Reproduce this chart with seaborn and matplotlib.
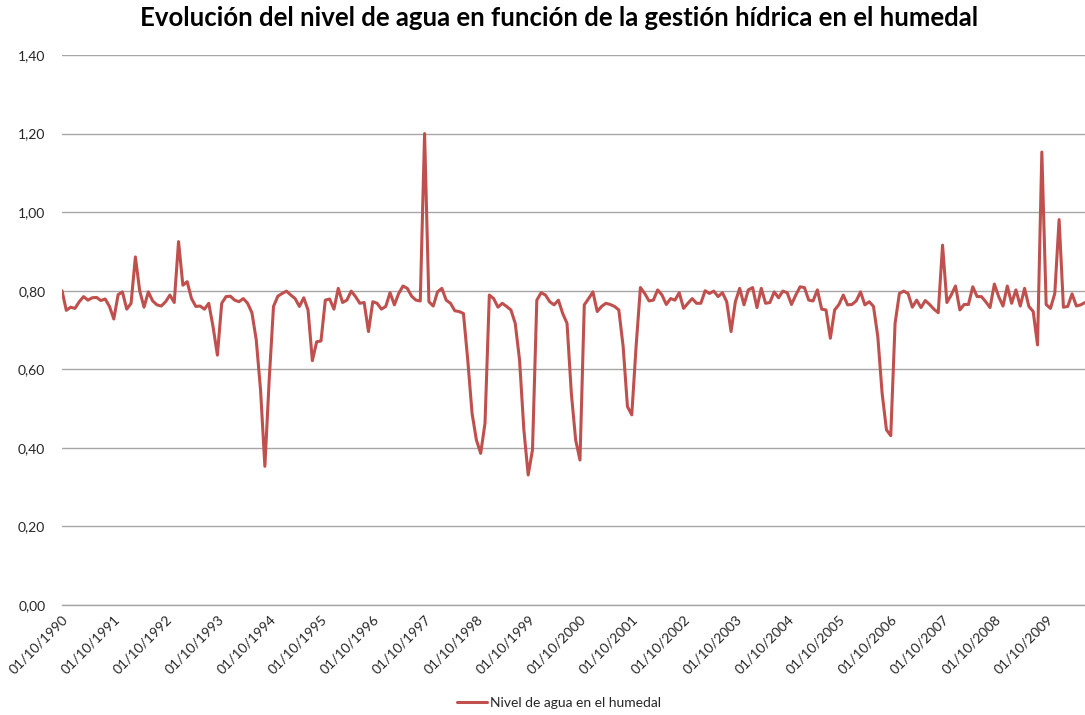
import pandas as pd
import matplotlib
matplotlib.use('Agg')
import matplotlib.pyplot as plt
import seaborn as sns

# Monthly water level, starting 01/10/1990
nivel = [
    0.800, 0.750, 0.758, 0.755, 0.772, 0.785, 0.776, 0.782, 0.783, 0.775, 0.779, 0.760,
    0.728, 0.790, 0.797, 0.753, 0.768, 0.886, 0.800, 0.758, 0.797, 0.774, 0.764, 0.761,
    0.772, 0.789, 0.770, 0.925, 0.814, 0.823, 0.780, 0.760, 0.761, 0.753, 0.768, 0.708,
    0.636, 0.768, 0.785, 0.786, 0.776, 0.772, 0.780, 0.768, 0.744, 0.675, 0.547, 0.353,
    0.573, 0.760, 0.786, 0.793, 0.799, 0.789, 0.780, 0.760, 0.782, 0.751, 0.622, 0.670,
    0.672, 0.776, 0.779, 0.753, 0.806, 0.770, 0.776, 0.799, 0.785, 0.768, 0.770, 0.696,
    0.772, 0.768, 0.753, 0.760, 0.795, 0.764, 0.793, 0.812, 0.806, 0.786, 0.776, 0.774,
    1.200, 0.772, 0.761, 0.797, 0.806, 0.776, 0.768, 0.749, 0.747, 0.742, 0.624, 0.488,
    0.420, 0.386, 0.463, 0.789, 0.780, 0.758, 0.768, 0.760, 0.751, 0.717, 0.624, 0.446,
    0.331, 0.395, 0.776, 0.795, 0.789, 0.772, 0.764, 0.776, 0.742, 0.717, 0.539, 0.420,
    0.369, 0.764, 0.780, 0.797, 0.747, 0.760, 0.768, 0.765, 0.760, 0.751, 0.658, 0.505,
    0.484, 0.658, 0.808, 0.793, 0.774, 0.776, 0.802, 0.789, 0.765, 0.780, 0.776, 0.795,
    0.755, 0.768, 0.780, 0.768, 0.768, 0.800, 0.793, 0.799, 0.785, 0.795, 0.772, 0.696,
    0.772, 0.806, 0.764, 0.802, 0.808, 0.757, 0.806, 0.768, 0.770, 0.797, 0.782, 0.799,
    0.795, 0.765, 0.789, 0.810, 0.808, 0.776, 0.774, 0.802, 0.753, 0.751, 0.679, 0.751,
    0.765, 0.789, 0.764, 0.765, 0.774, 0.797, 0.764, 0.772, 0.760, 0.683, 0.539, 0.446,
    0.431, 0.717, 0.793, 0.799, 0.793, 0.758, 0.776, 0.757, 0.775, 0.765, 0.753, 0.744,
    0.916, 0.770, 0.789, 0.812, 0.751, 0.765, 0.765, 0.810, 0.785, 0.785, 0.772, 0.757,
    0.817, 0.785, 0.761, 0.812, 0.768, 0.802, 0.761, 0.806, 0.760, 0.747, 0.662, 1.153,
    0.765, 0.755, 0.793, 0.981, 0.758, 0.760, 0.792, 0.761, 0.764, 0.770,
]
years = list(range(1990, 2010))
tick_labels = [f'01/10/{y}' for y in years]
serie = 'Nivel de agua en el humedal'

df = pd.DataFrame({'mes': range(len(nivel)), 'nivel': nivel})

sns.set_style('white')
plt.rcParams['font.family'] = ['Lato', 'DejaVu Sans']

fig = plt.figure(figsize=(10.85, 7.15), dpi=100)
ax = fig.add_axes([62 / 1085, 1 - 605 / 715, 1 - 62 / 1085, (605 - 55) / 715])

sns.lineplot(data=df, x='mes', y='nivel', ax=ax, color='#C0504D', linewidth=2.2,
             label=serie, legend=False)

ax.set_xlim(0, len(nivel) - 1)
ax.set_ylim(0, 1.4)
ax.set_yticks([i * 0.2 for i in range(8)])
ax.set_yticklabels([f'{i * 0.2:.2f}'.replace('.', ',') for i in range(8)])
ax.set_xticks([12 * i for i in range(len(years))])
ax.set_xticklabels(tick_labels, rotation=45, ha='right', rotation_mode='anchor')
ax.tick_params(axis='both', length=0, labelsize=10, colors='#262626')
ax.tick_params(axis='y', pad=12)
ax.tick_params(axis='x', pad=6)
ax.set_xlabel('')
ax.set_ylabel('')
ax.yaxis.grid(True, color='#a6a6a6', linewidth=1.0)
ax.set_axisbelow(True)
for s in ['top', 'right', 'left']:
    ax.spines[s].set_visible(False)
ax.spines['bottom'].set_color('#a6a6a6')
ax.spines['bottom'].set_linewidth(1.0)

fig.suptitle('Evolución del nivel de agua en función de la gestión hídrica en el humedal',
             x=0.515, y=1 - 18 / 715, va='center', fontsize=18.5, fontweight='bold', color='#000000')

handles, labels = ax.get_legend_handles_labels()
fig.legend(handles, labels, loc='center', bbox_to_anchor=(0.515, 1 - 703 / 715),
           frameon=False, fontsize=10, handlelength=2.2, handletextpad=0.2)

fig.savefig('out.png', dpi=100)
